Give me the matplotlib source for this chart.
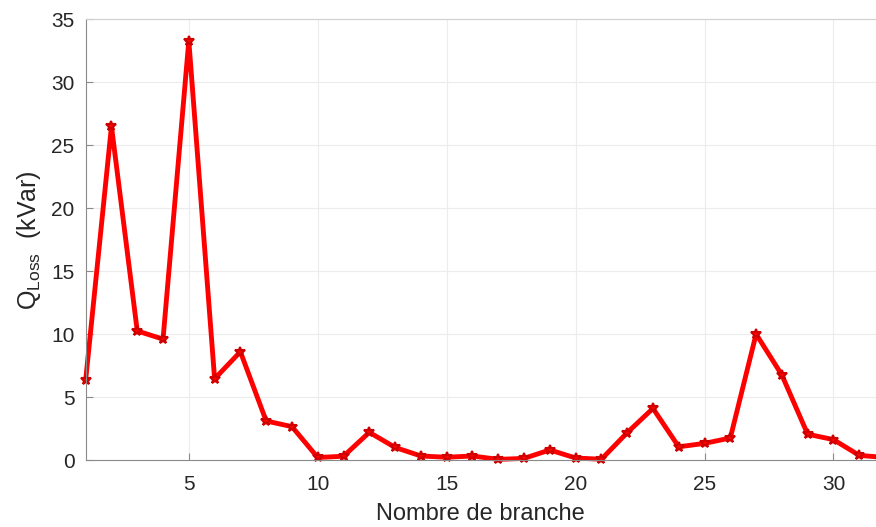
import numpy as np
import matplotlib
matplotlib.use('Agg')
import matplotlib.pyplot as plt

plt.rcParams['font.family'] = ['Liberation Sans', 'DejaVu Sans']
plt.rcParams['mathtext.fontset'] = 'custom'
plt.rcParams['mathtext.rm'] = 'Liberation Sans'
plt.rcParams['mathtext.it'] = 'Liberation Sans'

# reactive losses per branch (kVar)
branches = list(range(1, 33))
q_loss = [6.35, 26.5, 10.25, 9.6, 33.3, 6.45, 8.6, 3.1, 2.65, 0.2,
          0.3, 2.2, 1.0, 0.32, 0.22, 0.32, 0.05, 0.13, 0.8, 0.16,
          0.06, 2.17, 4.1, 1.05, 1.32, 1.75, 10.0, 6.75, 2.05, 1.62,
          0.37, 0.2]

xticks = [5, 10, 15, 20, 25, 30]
yticks = [0, 5, 10, 15, 20, 25, 30, 35]

fig = plt.figure(figsize=(8.76, 5.27), dpi=100)
ax = fig.add_axes([0.0978, 0.1271, 0.9022, 0.8363])

ax.plot(branches, q_loss, color='#ff0000', lw=3.5, marker='*', ms=7,
        mec='#d00000', mew=1.5, clip_on=False)

ax.set_xlim(1, 31.65)
ax.set_ylim(0, 35)
ax.set_xticks(xticks)
ax.set_yticks(yticks)
ax.grid(True, color='#ececec', lw=0.8)
ax.set_axisbelow(True)

for s in ['left', 'bottom', 'top']:
    ax.spines[s].set_color('#8a8a8a')
    ax.spines[s].set_linewidth(0.8)
ax.spines['top'].set_color('#cfcfcf')
ax.spines['right'].set_visible(False)

ax.tick_params(direction='in', length=5, colors='#8a8a8a', labelsize=15,
               labelcolor='#262626', top=False, right=False)
ax.tick_params(axis='y', pad=8)
ax.tick_params(axis='x', pad=11)

ax.set_xlabel('Nombre de branche', fontsize=17, color='#262626', labelpad=6)
ax.set_ylabel(r'Q$_{\mathrm{Loss}}$  (kVar)', fontsize=18, color='#262626',
              labelpad=6)

fig.savefig('out.png', dpi=100)
